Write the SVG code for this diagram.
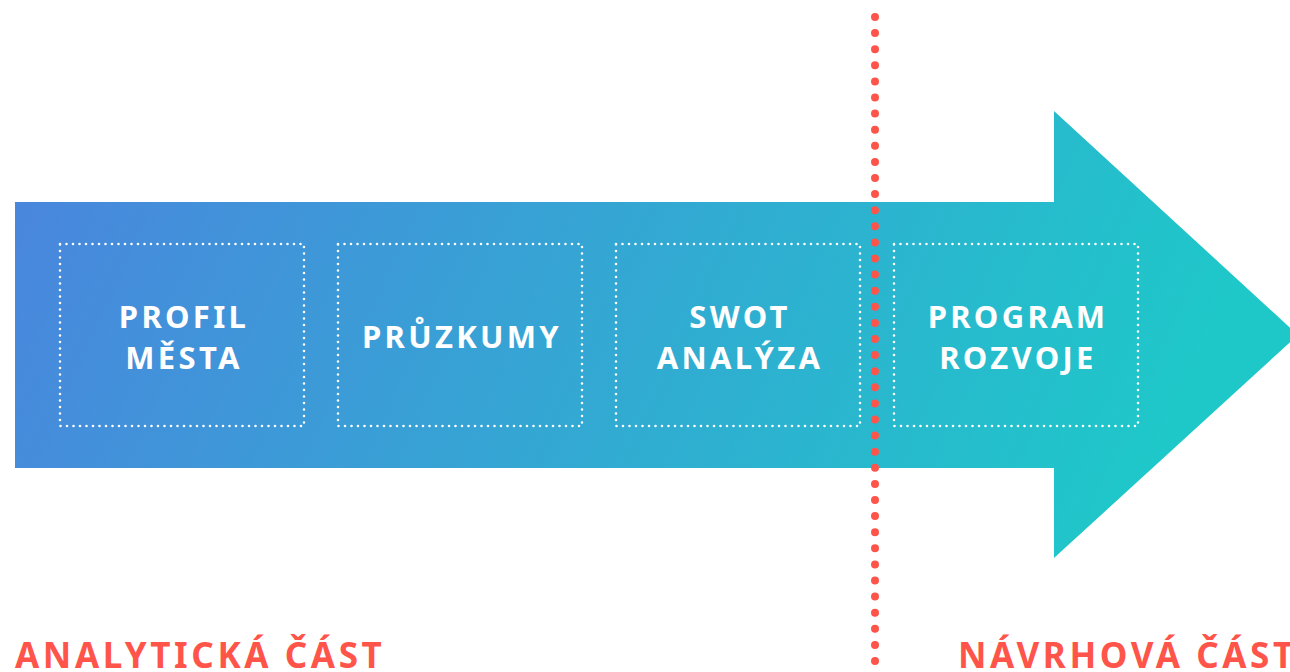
<svg xmlns="http://www.w3.org/2000/svg" width="1290" height="672" viewBox="0 0 1290 672">
<defs>
<linearGradient id="g" gradientUnits="userSpaceOnUse" x1="15" y1="110" x2="1100" y2="600">
<stop offset="0" stop-color="#4b84de"/>
<stop offset="1" stop-color="#1ec8c9"/>
</linearGradient>
<style>
.box{fill:none;stroke:#fff;stroke-width:2.6;stroke-linecap:round;stroke-dasharray:0 6.5}
.t{font-family:"Source Sans Pro","Noto Sans","Open Sans",sans-serif;font-weight:700;fill:#fff;font-size:31px;letter-spacing:3.3px;text-anchor:middle}
.lab{font-family:"Source Sans Pro","Noto Sans","Open Sans",sans-serif;font-weight:700;fill:#ff544a;font-size:35px;letter-spacing:3.6px}
.sep{fill:none;stroke:#ff544a;stroke-width:8;stroke-linecap:round;stroke-dasharray:0 16.1}
</style>
</defs>
<g id="arrow"><path d="M15 202 H1054 V111 L1298 335 L1054 558 V468 H15 Z" fill="url(#g)"/></g>
<g id="n1"><rect class="box" x="60" y="244" width="244" height="182"/><text class="t" x="184" y="328">PROFIL</text><text class="t" x="184" y="369">MĚSTA</text></g>
<g id="n2"><rect class="box" x="338" y="244" width="244" height="182"/><text class="t" x="462" y="348">PRŮZKUMY</text></g>
<g id="n3"><rect class="box" x="616" y="244" width="244" height="182"/><text class="t" x="740" y="328">SWOT</text><text class="t" x="740" y="369">ANALÝZA</text></g>
<g id="n4"><rect class="box" x="894" y="244" width="244" height="182"/><text class="t" x="1018" y="328">PROGRAM</text><text class="t" x="1018" y="369">ROZVOJE</text></g>
<g id="connectors"><line class="sep" x1="875" y1="17" x2="875" y2="666"/></g>
<text class="lab" x="15" y="668">ANALYTICKÁ ČÁST</text>
<text class="lab" x="958" y="668">NÁVRHOVÁ ČÁST</text>
</svg>
